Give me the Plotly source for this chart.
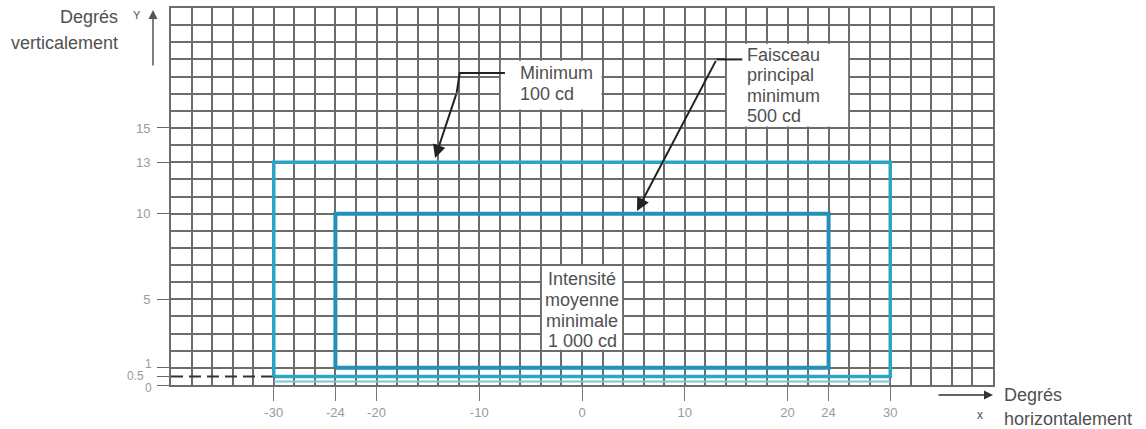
import plotly.graph_objects as go

# ---------------- data ----------------
x_tick_values = [-30, -24, -20, -10, 0, 10, 20, 24, 30]
x_tick_labels = ["-30", "-24", "-20", "-10", "0", "10", "20", "24", "30"]
y_tick_values = [15, 13, 10, 5, 1, 0.5, 0]
y_tick_labels = ["15", "13", "10", "5", "1", "0.5", "0"]

x_range = [-40, 40]
y_range = [0, 22]
grid_step_x = 2
grid_step_y = 1

# 100 cd zone (outer) and 500 cd main beam zone (inner)
zone_100_x = [-30, 30, 30, -30, -30]
zone_100_y = [0.5, 0.5, 13, 13, 0.5]
zone_500_x = [-24, 24, 24, -24, -24]
zone_500_y = [1, 1, 10, 10, 1]
base_x = [-30, 30]
base_y = [0.2, 0.2]
ref05_x = [-40, -30]
ref05_y = [0.5, 0.5]

# leader lines (polyline part) and arrow tips
leader_min_x = [-7.5, -11.9, -12.2]
leader_min_y = [18.2, 18.2, 17.05]
leader_min_tip = (-14.3, 13.25)
leader_fais_x = [15.6, 13.1]
leader_fais_y = [19.0, 19.0]
leader_fais_tip = (5.35, 10.15)

label_min = ["Minimum", "100 cd"]
label_fais = ["Faisceau", "principal", "minimum", "500 cd"]
label_int = ["Intensité", "moyenne", "minimale", "1 000 cd"]

# ---------------- style / layout ----------------
GRID = "#6c6c6c"
TXT = "#505050"
TICKTXT = "#9a9a9a"
FONT = "Liberation Sans, Arial, sans-serif"
C_OUT = "#2aa5c4"
C_IN = "#2390b6"

fig = go.Figure()

# base subplot trace (dashed 0.5 reference line)
fig.add_trace(go.Scatter(x=ref05_x, y=ref05_y, mode="lines",
                         line=dict(color="#333333", width=2, dash="12px,6px"),
                         hoverinfo="skip", showlegend=False, xaxis="x", yaxis="y"))

# overlay subplot traces
fig.add_trace(go.Scatter(x=base_x, y=base_y, mode="lines",
                         line=dict(color="#7cc6d6", width=2),
                         hoverinfo="skip", showlegend=False, xaxis="x2", yaxis="y2"))
fig.add_trace(go.Scatter(x=zone_100_x, y=zone_100_y, mode="lines",
                         line=dict(color=C_OUT, width=3.5),
                         hoverinfo="skip", showlegend=False, xaxis="x2", yaxis="y2"))
fig.add_trace(go.Scatter(x=zone_500_x, y=zone_500_y, mode="lines",
                         line=dict(color=C_IN, width=4),
                         hoverinfo="skip", showlegend=False, xaxis="x2", yaxis="y2"))
fig.add_trace(go.Scatter(x=leader_min_x, y=leader_min_y, mode="lines",
                         line=dict(color="#222222", width=2),
                         hoverinfo="skip", showlegend=False, xaxis="x2", yaxis="y2"))
fig.add_trace(go.Scatter(x=leader_fais_x, y=leader_fais_y, mode="lines",
                         line=dict(color="#222222", width=2),
                         hoverinfo="skip", showlegend=False, xaxis="x2", yaxis="y2"))

# white label boxes (above grid, below traces)
boxes = [(-7.9, 1.9, 16.08, 18.92), (14.1, 25.9, 15.08, 19.92), (-3.9, 3.9, 2.06, 6.94)]
for x0, x1, y0, y1 in boxes:
    fig.add_shape(type="rect", xref="x", yref="y", x0=x0, x1=x1, y0=y0, y1=y1,
                  fillcolor="white", line=dict(width=0), layer="between")

ann = []
def text_lines(lines, x, ys, anchor):
    for t, yy in zip(lines, ys):
        ann.append(dict(text=t, x=x, y=yy, xref="x2", yref="y2", showarrow=False,
                        xanchor=anchor, yanchor="middle",
                        font=dict(family=FONT, size=18, color=TXT)))

text_lines(label_min, -6.23, [18.18, 16.98], "left")
text_lines(label_fais, 15.86, [19.23, 18.07, 16.89, 15.72], "left")
text_lines(label_int, 0, [6.19, 4.96, 3.76, 2.57], "center")

# arrow heads of leaders
for xs, ys, tip in [(leader_min_x, leader_min_y, leader_min_tip),
                    (leader_fais_x, leader_fais_y, leader_fais_tip)]:
    ann.append(dict(text="", x=tip[0], y=tip[1], xref="x2", yref="y2",
                    ax=xs[-1], ay=ys[-1], axref="x2", ayref="y2",
                    showarrow=True, arrowhead=2, arrowsize=1.3, arrowwidth=2,
                    arrowcolor="#222222", standoff=0, startstandoff=0))

# small y labels near origin (paper coordinates so none gets hidden)
for t, yy, xx in [("1", 0.055, -0.021), ("0.5", 0.024, -0.030), ("0", -0.008, -0.021)]:
    ann.append(dict(text=t, x=xx, y=yy, xref="paper", yref="paper", showarrow=False,
                    xanchor="right", yanchor="middle",
                    font=dict(family=FONT, size=12, color=TICKTXT)))

# axis names and arrows
ann += [
    dict(text="Degrés", x=-0.062, y=0.977, xref="paper", yref="paper", showarrow=False,
         xanchor="right", yanchor="middle", font=dict(family=FONT, size=18, color=TXT)),
    dict(text="verticalement", x=-0.062, y=0.908, xref="paper", yref="paper", showarrow=False,
         xanchor="right", yanchor="middle", font=dict(family=FONT, size=18, color=TXT)),
    dict(text="Y", x=-0.041, y=0.981, xref="paper", yref="paper", showarrow=False,
         xanchor="center", yanchor="middle", font=dict(family=FONT, size=11, color=TXT)),
    dict(text="", x=-0.0219, y=0.995, xref="paper", yref="paper", ax=0, ay=57,
         showarrow=True, arrowhead=2, arrowsize=1.2, arrowwidth=1.5, arrowcolor="#555555"),
    dict(text="", x=1.0, y=-0.0265, xref="paper", yref="paper", ax=-56, ay=0,
         showarrow=True, arrowhead=2, arrowsize=1.2, arrowwidth=1.5, arrowcolor="#333333"),
    dict(text="Degrés", x=1.011, y=-0.0265, xref="paper", yref="paper", showarrow=False,
         xanchor="left", yanchor="middle", font=dict(family=FONT, size=18, color=TXT)),
    dict(text="horizontalement", x=1.011, y=-0.089, xref="paper", yref="paper", showarrow=False,
         xanchor="left", yanchor="middle", font=dict(family=FONT, size=18, color=TXT)),
    dict(text="x", x=0.984, y=-0.080, xref="paper", yref="paper", showarrow=False,
         xanchor="center", yanchor="middle", font=dict(family=FONT, size=12, color=TXT)),
]

grid_axis = dict(showgrid=True, gridcolor=GRID, gridwidth=1.6, showticklabels=False,
                 ticks="", zeroline=False, showline=True, mirror=True, linecolor=GRID,
                 linewidth=1.6, automargin=False, fixedrange=True)

fig.update_layout(
    width=1146, height=429,
    margin=dict(l=171, r=153, t=8, b=44, pad=0),
    paper_bgcolor="white", plot_bgcolor="white",
    font=dict(family=FONT),
    showlegend=False,
    xaxis=dict(range=x_range, tick0=0, dtick=grid_step_x, **grid_axis),
    yaxis=dict(range=y_range, tick0=0, dtick=grid_step_y, **grid_axis),
    xaxis2=dict(overlaying="x", anchor="y2", range=x_range, side="bottom",
                tickmode="array", tickvals=x_tick_values, ticktext=x_tick_labels,
                ticks="outside", ticklen=15, tickwidth=1.2, tickcolor="#777777",
                showgrid=False, zeroline=False, showline=False, automargin=False,
                tickfont=dict(family=FONT, size=13, color=TICKTXT), fixedrange=True),
    yaxis2=dict(overlaying="y", anchor="x2", range=y_range, side="left",
                tickmode="array", tickvals=y_tick_values,
                ticktext=[t if v >= 5 else "" for v, t in zip(y_tick_values, y_tick_labels)],
                ticks="outside", ticklen=13, tickwidth=1.2, tickcolor="#666666",
                ticklabelstandoff=4,
                showgrid=False, zeroline=False, showline=False, automargin=False,
                tickfont=dict(family=FONT, size=13, color=TICKTXT), fixedrange=True),
    annotations=ann,
)

fig.write_html("out.html", config={"displayModeBar": False},
               post_script="document.body.style.margin='0';document.body.style.overflow='hidden';")
